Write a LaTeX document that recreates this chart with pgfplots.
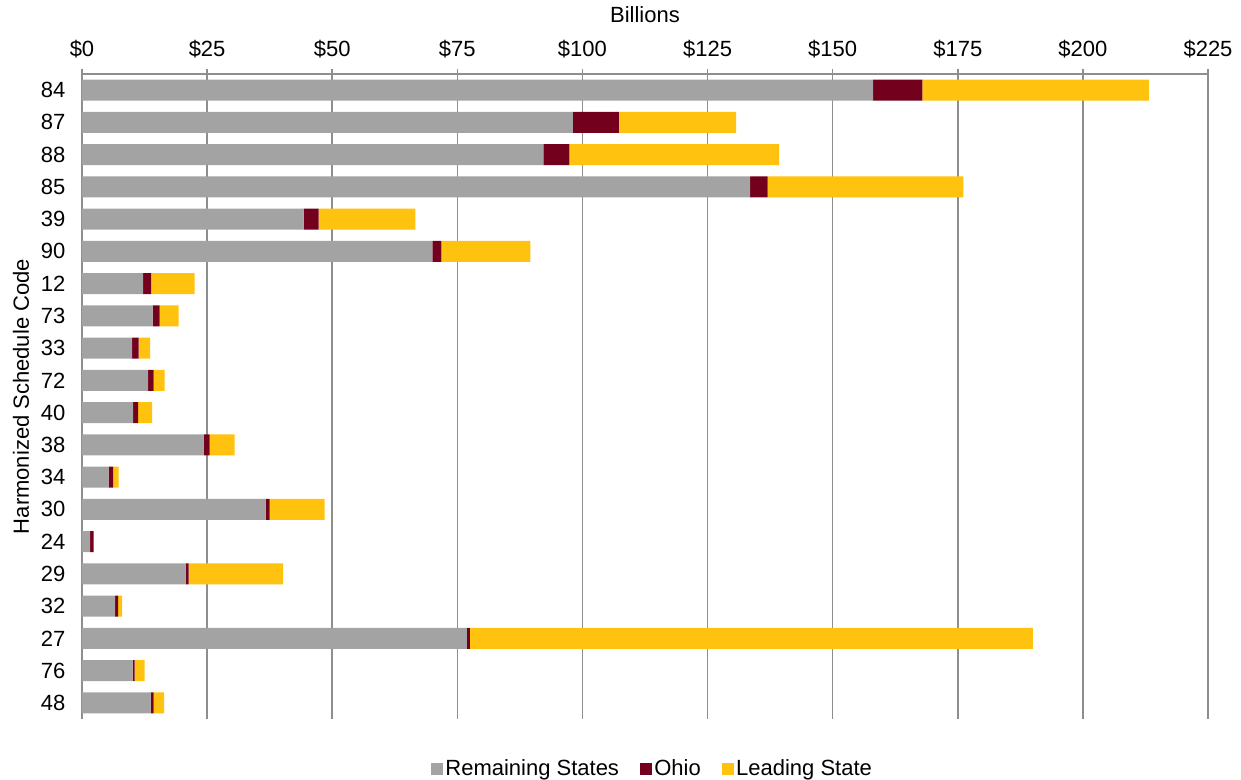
\documentclass[border=0pt]{standalone}
\usepackage{fontspec}
\setmainfont{Liberation Sans}
\usepackage{pgfplots}
\pgfplotsset{compat=1.18}
\usepackage{pgfplotstable}

\definecolor{remgray}{HTML}{A3A3A3}
\definecolor{ohiored}{HTML}{73001C}
\definecolor{leadgold}{HTML}{FFC20E}
\definecolor{axgray}{HTML}{8E8E8E}

% positions run bottom (0) to top (19)
\pgfplotstableread{
pos code rem  ohio lead
19  84   158.1 9.8 45.3
18  87   98.1  9.2 23.4
17  88   92.2  5.2 41.9
16  85   133.5 3.5 39.1
15  39   44.3  3.0 19.3
14  90   70.0  1.8 17.8
13  12   12.2  1.6 8.7
12  73   14.1  1.4 3.8
11  33   10.0  1.3 2.3
10  72   13.2  1.1 2.2
9   40   10.2  1.0 2.8
8   38   24.3  1.2 5.0
7   34   5.3   0.9 1.1
6   30   36.7  0.8 11.0
5   24   1.6   0.7 0.0
4   29   20.7  0.6 18.9
3   32   6.6   0.6 0.8
2   27   76.9  0.6 112.5
1   76   10.1  0.4 2.0
0   48   13.7  0.6 2.1
}\hsdata

\begin{document}
\begin{tikzpicture}
\path[use as bounding box] (-61.5pt,-45pt) rectangle (869.25pt,539.25pt);
\begin{axis}[
    at={(0pt,0pt)}, anchor=south west,
    scale only axis,
    width=844.5pt, height=483.75pt,
    xbar stacked,
    bar width=15.75pt,
    xmin=0, xmax=225,
    ymin=-0.5, ymax=19.5,
    axis x line*=top,
    axis y line*=left,
    axis line style={axgray, line width=1.1pt},
    font=\fontsize{16.5}{19}\selectfont,
    xtick={0,25,...,225},
    xticklabels={\$0,\$25,\$50,\$75,\$100,\$125,\$150,\$175,\$200,\$225},
    xticklabel style={yshift=4.5pt},
    xtick style={axgray, line width=1.1pt},
    xtick align=outside,
    major tick length=4pt,
    xmajorgrids=true,
    grid style={axgray, line width=1.1pt},
    ytick={0,...,19},
    yticklabels={48,76,27,32,29,24,30,34,38,40,72,33,73,12,90,39,85,88,87,84},
    ytick style={draw=none},
    minor ytick={-0.5,0.5,...,19.5},
    minor tick style={axgray, line width=1.1pt},
    minor tick length=5pt,
    ytick align=outside,
    yticklabel style={xshift=-5pt},
    xlabel={Billions},
    xlabel style={yshift=6pt},
    ylabel={Harmonized Schedule Code},
    ylabel style={yshift=2pt},
    every axis plot/.append style={draw=none},
    legend columns=3,
    legend style={draw=none, fill=none, at={(0.5,0)}, anchor=center,
        yshift=-37.5pt, xshift=6pt, font=\fontsize{16.5}{19}\selectfont,
        /tikz/every even column/.append style={column sep=14pt},
        /tikz/every odd column/.append style={column sep=0pt}},
    legend cell align=left,
    legend image code/.code={\fill[#1] (0pt,-4.5pt) rectangle (8.5pt,4.5pt);},
]
\addplot[fill=remgray] table[x=rem, y=pos] {\hsdata};
\addlegendentry{Remaining States}
\addplot[fill=ohiored] table[x=ohio, y=pos] {\hsdata};
\addlegendentry{Ohio}
\addplot[fill=leadgold] table[x=lead, y=pos] {\hsdata};
\addlegendentry{Leading State}
\end{axis}
\end{tikzpicture}
\end{document}
